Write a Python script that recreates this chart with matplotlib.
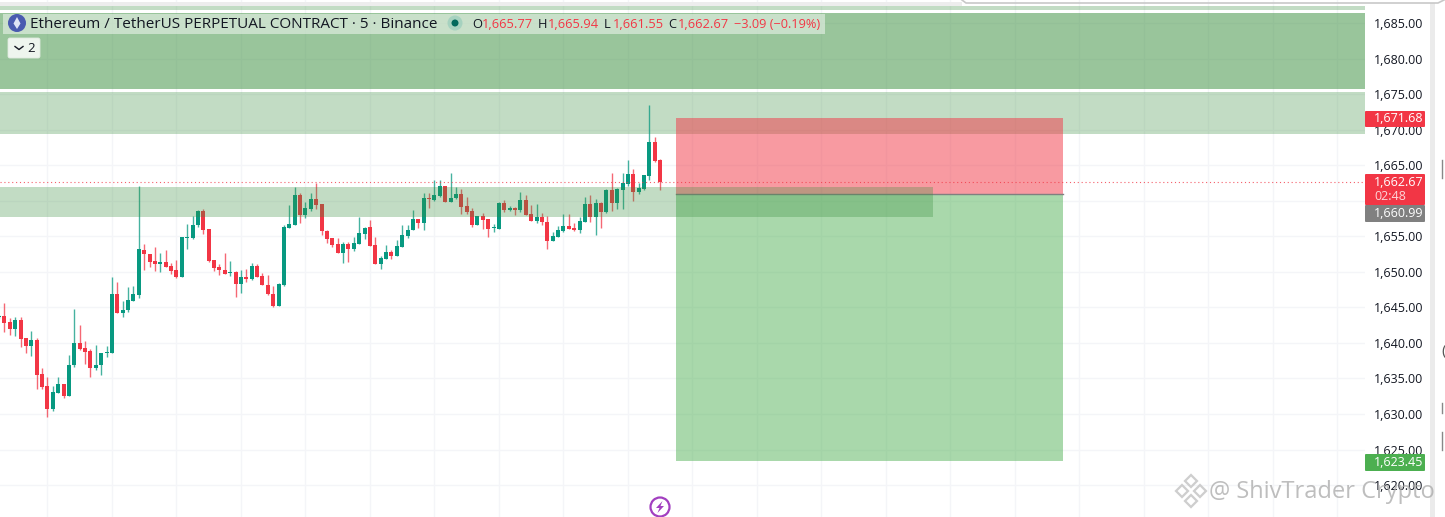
import matplotlib
matplotlib.use("Agg")
import matplotlib.pyplot as plt
from matplotlib.patches import Circle, FancyBboxPatch, Polygon, Rectangle

# candles (5 min bars)
opens = [1643.6, 1643.79, 1642.89, 1642.0, 1643.22, 1640.64, 1639.56, 1640.41, 1635.58, 1633.89,
         1630.75, 1633.0, 1634.22, 1632.58, 1636.84, 1639.99, 1639.28, 1638.86, 1636.47, 1636.84,
         1638.53, 1638.63, 1646.93, 1644.16, 1644.63, 1645.94, 1646.74, 1653.07, 1652.56, 1651.53,
         1651.15, 1651.43, 1650.78, 1650.21, 1649.23, 1654.81, 1654.81, 1656.54, 1658.51, 1655.98,
         1651.67, 1650.68, 1650.31, 1649.79, 1649.98, 1648.34, 1649.28, 1649.0, 1650.87, 1649.37,
         1648.15, 1646.93, 1645.19, 1648.15, 1656.22, 1656.64, 1660.77, 1658.0, 1658.89, 1660.25,
         1659.5, 1655.79, 1654.71, 1653.87, 1652.65, 1653.87, 1653.21, 1653.92, 1655.37, 1656.31,
         1653.77, 1651.1, 1651.8, 1652.74, 1652.23, 1653.49, 1655.04, 1655.84, 1657.43, 1656.87,
         1660.39, 1660.11, 1660.67, 1662.12, 1659.87, 1660.34, 1660.9, 1659.21, 1658.51, 1656.59,
         1657.85, 1657.43, 1656.21, 1656.07, 1659.68, 1658.74, 1658.97, 1658.65, 1660.1, 1658.18,
         1657.15, 1657.71, 1657.05, 1654.38, 1654.9, 1655.78, 1656.39, 1656.16, 1655.88, 1657.05,
         1659.54, 1657.71, 1659.68, 1658.41, 1661.46, 1659.68, 1661.55, 1662.4, 1663.81, 1661.23,
         1661.7, 1663.48, 1668.31, 1665.77]
highs = [1643.9, 1645.66, 1643.55, 1643.6, 1643.6, 1640.7, 1641.67, 1640.64, 1636.42, 1635.16,
         1633.98, 1635.16, 1634.22, 1638.3, 1644.72, 1642.47, 1640.22, 1639.14, 1639.66, 1638.58,
         1639.56, 1649.3, 1648.62, 1645.9, 1647.82, 1648.0, 1662.08, 1653.92, 1652.56, 1653.45,
         1652.6, 1653.07, 1651.2, 1651.67, 1654.86, 1656.68, 1657.86, 1658.7, 1658.84, 1655.98,
         1651.67, 1651.1, 1652.6, 1651.57, 1650.07, 1650.26, 1650.4, 1651.2, 1651.1, 1649.79,
         1649.56, 1648.01, 1648.38, 1656.59, 1659.4, 1661.89, 1661.14, 1659.83, 1661.05, 1662.55,
         1659.5, 1655.88, 1654.81, 1654.71, 1654.15, 1654.15, 1654.9, 1657.67, 1656.31, 1657.29,
         1654.95, 1652.27, 1653.77, 1653.07, 1654.48, 1656.59, 1656.59, 1658.7, 1657.43, 1661.04,
         1661.04, 1662.92, 1662.92, 1662.12, 1663.86, 1661.89, 1661.61, 1660.53, 1658.98, 1657.85,
         1658.32, 1657.43, 1656.68, 1659.87, 1660.1, 1659.26, 1659.12, 1661.23, 1660.76, 1659.36,
         1659.54, 1658.22, 1657.85, 1655.6, 1656.44, 1658.13, 1658.13, 1656.87, 1657.66, 1660.52,
         1660.76, 1660.2, 1659.87, 1661.6, 1663.85, 1661.79, 1663.85, 1665.73, 1664.42, 1662.45,
         1663.57, 1673.47, 1668.92, 1665.94]
lows = [1643.5, 1641.58, 1641.11, 1641.0, 1639.47, 1638.63, 1638.16, 1633.47, 1633.47, 1629.62,
        1630.47, 1632.9, 1632.2, 1632.58, 1636.66, 1639.0, 1637.03, 1635.16, 1636.19, 1635.48,
        1638.06, 1638.63, 1644.16, 1643.69, 1644.4, 1645.94, 1646.37, 1650.26, 1650.73, 1650.17,
        1649.93, 1650.64, 1649.65, 1649.09, 1649.23, 1653.26, 1654.62, 1656.36, 1655.33, 1651.43,
        1650.17, 1649.56, 1649.65, 1649.46, 1646.5, 1647.07, 1648.62, 1648.9, 1649.23, 1648.1,
        1646.74, 1645.1, 1645.19, 1648.05, 1656.12, 1656.64, 1656.92, 1657.58, 1658.6, 1658.89,
        1655.18, 1654.06, 1653.54, 1652.6, 1651.24, 1651.34, 1652.93, 1653.92, 1654.62, 1653.68,
        1651.15, 1650.4, 1651.8, 1651.8, 1652.23, 1653.49, 1654.71, 1655.84, 1656.12, 1655.93,
        1658.93, 1660.01, 1660.57, 1659.87, 1659.87, 1660.25, 1658.18, 1658.18, 1656.35, 1656.59,
        1656.03, 1654.95, 1655.65, 1656.07, 1658.46, 1658.55, 1658.0, 1658.46, 1657.94, 1657.1,
        1656.91, 1656.63, 1653.25, 1654.29, 1654.85, 1655.6, 1655.97, 1655.78, 1655.5, 1656.96,
        1657.0, 1655.22, 1656.16, 1658.22, 1658.55, 1658.88, 1658.83, 1662.12, 1659.96, 1660.9,
        1661.5, 1662.92, 1665.4, 1661.55]
closes = [1643.8, 1642.85, 1642.0, 1643.22, 1640.6, 1639.56, 1640.41, 1635.48, 1633.8, 1630.75,
          1633.09, 1634.22, 1632.58, 1636.89, 1639.99, 1639.14, 1638.72, 1636.47, 1636.89, 1638.58,
          1638.72, 1646.93, 1644.16, 1644.63, 1646.04, 1646.83, 1653.17, 1652.46, 1651.43, 1651.15,
          1651.43, 1650.68, 1650.17, 1649.23, 1654.86, 1654.9, 1656.59, 1658.56, 1655.89, 1651.57,
          1650.54, 1650.21, 1649.74, 1649.98, 1648.34, 1649.28, 1649.04, 1650.87, 1649.32, 1648.1,
          1646.88, 1645.19, 1648.24, 1656.31, 1656.73, 1660.77, 1658.0, 1658.98, 1660.25, 1659.45,
          1655.79, 1654.62, 1653.77, 1652.65, 1653.87, 1653.21, 1654.01, 1655.41, 1656.12, 1653.68,
          1651.15, 1651.9, 1652.74, 1652.27, 1653.59, 1655.13, 1655.93, 1657.43, 1656.87, 1660.34,
          1660.3, 1660.76, 1662.08, 1659.87, 1660.43, 1660.9, 1659.12, 1658.42, 1656.59, 1657.85,
          1657.34, 1656.03, 1656.31, 1659.72, 1658.65, 1658.97, 1658.65, 1660.1, 1658.04, 1657.19,
          1657.71, 1656.96, 1654.38, 1655.04, 1655.83, 1656.39, 1656.07, 1655.83, 1657.15, 1659.54,
          1657.71, 1659.68, 1658.41, 1661.46, 1659.68, 1661.65, 1662.49, 1663.81, 1661.23, 1661.79,
          1663.57, 1668.31, 1665.54, 1662.67]

price_ticks = [1620, 1625, 1630, 1635, 1640, 1645, 1650, 1655, 1660, 1665, 1670, 1675, 1680, 1685]
hidden_tick = 1660  # sits behind the last price label

# position tool
entry_price = 1660.99
stop_price = 1671.68
target_price = 1623.45
last_price = 1662.67
countdown = "02:48"

# drawn zones (low, high)
upper_strip = (1686.76, 1687.39)
upper_zone = (1675.7, 1686.34)
middle_zone = (1669.4, 1675.3)
support_zone = (1657.7, 1662.0)

legend_title = "Ethereum / TetherUS PERPETUAL CONTRACT · 5 · Binance"
change_text = "−3.09 (−0.19%)"

GREEN = "#089981"
RED = "#f23645"
ZONE = "#388e3c"
W, H = 1445, 517

plt.rcParams["font.family"] = ["Open Sans", "DejaVu Sans"]
fig = plt.figure(figsize=(W / 100, H / 100), dpi=100, facecolor="white")
ax = fig.add_axes([0, 0, 1365 / W, 1])


def x_of_pixel(px):
    return (px + 0.9) / 5.375


ax.set_xlim(x_of_pixel(0), x_of_pixel(1365))
ax.set_ylim(1615.52, 1688.235)
ax.set_xticks([9 + 12 * k for k in range(21)])
ax.set_yticks(price_ticks)
ax.set_yticklabels(["" if p == hidden_tick else f"{p:,.2f}" for p in price_ticks], fontsize=9, color="#131722")
ax.yaxis.tick_right()
ax.tick_params(axis="both", length=0, labelbottom=False, pad=6.5)
ax.grid(True, color="#f4f5f8", linewidth=1)
ax.set_axisbelow(True)
for s in ax.spines.values():
    s.set_visible(False)

# zones
ax.axhspan(*upper_strip, color=ZONE, alpha=0.3, lw=0, zorder=1)
ax.axhspan(*upper_zone, color=ZONE, alpha=0.51, lw=0, zorder=1)
ax.axhspan(*middle_zone, color=ZONE, alpha=0.3, lw=0, zorder=1)

# candles
for i in range(len(opens)):
    col = GREEN if closes[i] >= opens[i] else RED
    ax.vlines(i, lows[i], highs[i], color=col, linewidth=1, alpha=0.75, zorder=3)
    bottom = min(opens[i], closes[i])
    ax.bar(i, max(abs(closes[i] - opens[i]), 0.12), bottom=bottom, width=0.75, color=col, lw=0, zorder=4)

# short position box
left, right = x_of_pixel(676), x_of_pixel(1063)
ax.add_patch(Rectangle((left, entry_price), right - left, stop_price - entry_price,
                       fc="#f23645", alpha=0.5, lw=0, zorder=5))
ax.add_patch(Rectangle((left, target_price), right - left, entry_price - target_price,
                       fc="#4caf50", alpha=0.48, lw=0, zorder=5))
ax.plot([left, right], [entry_price, entry_price], color="#808080", lw=1, zorder=6)
ax.add_patch(Rectangle((x_of_pixel(0), support_zone[0]), x_of_pixel(933) - x_of_pixel(0),
                       support_zone[1] - support_zone[0], fc=ZONE, alpha=0.3, lw=0, zorder=6))
ax.axhline(last_price, color=RED, lw=0.8, ls=(0, (1, 2.5)), alpha=0.8, zorder=7)

# overlay in pixel coordinates for the widgets
ov = fig.add_axes([0, 0, 1, 1], facecolor="none")
ov.set_xlim(0, W)
ov.set_ylim(H, 0)
ov.axis("off")

# window edges
ov.add_patch(Rectangle((0, 2), 962, 4, fc="#ededed", lw=0))
ov.plot([962, 966, 1438, 1444], [0, 3, 3, 0], color="#c8c8c8", lw=1.2)
ov.add_patch(Rectangle((1430, 3), 5, H, fc="#ebebeb", lw=0))
for y0, y1 in [(160, 178), (403, 413), (432, 450)]:
    ov.plot([1442, 1442], [y0, y1], color="#888888", lw=1)
ov.text(1441, 352, "(", fontsize=11, color="#555555", ha="left", va="center")

# legend
ov.add_patch(Rectangle((3, 14), 822, 20, fc="white", alpha=0.48, lw=0))
ov.add_patch(Circle((17, 23), 9, fc="#4a5ab0", lw=0))
ov.add_patch(Polygon([(17, 17), (20.5, 23.5), (17, 29), (13.5, 23.5)], fc="#dfe3f5", lw=0))
ov.text(30, 24, legend_title, fontsize=10.95, color="#131722", va="center", ha="left")
ov.add_patch(Circle((455, 23), 7.5, fc="#8fcab9", alpha=0.6, lw=0))
ov.add_patch(Circle((455, 23), 3.5, fc="#00695c", lw=0))
values = [("O", opens[-1], 472), ("H", highs[-1], 538), ("L", lows[-1], 604), ("C", closes[-1], 668)]
for name, val, x0 in values:
    ov.text(x0, 24, name, fontsize=9.3, color="#131722", va="center", ha="left")
    ov.text(x0 + (10 if name != "L" else 9), 24, f"{val:,.2f}", fontsize=9.3, color=RED, va="center", ha="left")
ov.text(734, 24, change_text, fontsize=9.2, color=RED, va="center", ha="left")
ov.add_patch(FancyBboxPatch((8, 38), 32, 20, boxstyle="round,pad=0,rounding_size=2", fc="#eef5ee", ec="#e0ebe0", lw=0.6))
ov.plot([15, 19, 23], [46.5, 49.5, 46.5], color="#131722", lw=1)
ov.text(31, 48, "2", fontsize=9.5, color="#131722", ha="center", va="center")

# price scale labels
boxes = [(111, 127, RED, f"{stop_price:,.2f}", 119),
         (454, 471, "#4caf50", f"{target_price:,.2f}", 462.5),
         (205, 222, "#808080", f"{entry_price:,.2f}", 213.5),
         (174, 205, RED, f"{last_price:,.2f}", 182.5)]
for y0, y1, col, txt, yt in boxes:
    ov.add_patch(FancyBboxPatch((1365, y0), 60, y1 - y0, boxstyle="round,pad=0,rounding_size=1", fc=col, lw=0))
    ov.text(1374, yt, txt, fontsize=9, color="white", va="center", ha="left")
ov.text(1374, 197, countdown, fontsize=9, color="white", alpha=0.8, va="center", ha="left")

# lightning badge
ov.add_patch(Circle((660, 507), 9.5, fc="white", ec="#a23fc0", lw=1.6))
ov.add_patch(Polygon([(662.5, 501), (656, 508), (659.5, 508), (657.5, 513), (664, 506), (660.5, 506)], fc="#a23fc0", lw=0))

# watermark
wm = "#c9c9c9"
for cx, cy in [(1191, 481), (1182, 491), (1200, 491), (1191, 501)]:
    ov.add_patch(Polygon([(cx, cy - 6), (cx + 6, cy), (cx, cy + 6), (cx - 6, cy)], fc="white", ec=wm, lw=1.6, alpha=0.9))
ov.text(1209, 492, "@ ShivTrader Crypto", fontsize=17, color="#a8a8a8", alpha=0.75, va="center", ha="left", zorder=10)

fig.savefig("out.png", dpi=100, facecolor="white")
